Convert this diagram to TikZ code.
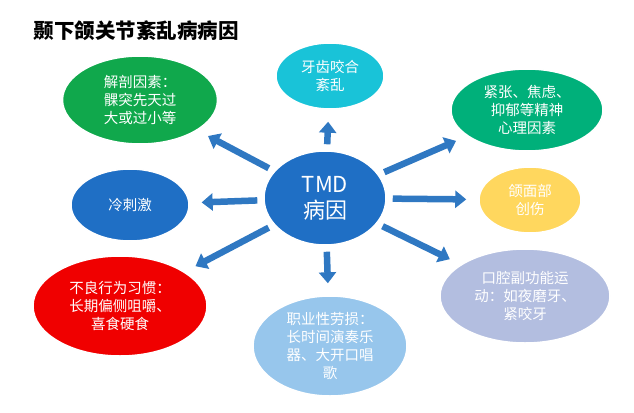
\documentclass[tikz,border=0pt]{standalone}
\usepackage{fontspec}
\setmainfont{Noto Sans CJK SC}
\usetikzlibrary{shapes.geometric,arrows.meta}
\definecolor{cblue}{HTML}{1F6FC5}
\definecolor{cgreen}{HTML}{10A84C}
\definecolor{ccyan}{HTML}{19C3D8}
\definecolor{cteal}{HTML}{00B07A}
\definecolor{cyellow}{HTML}{FFD75E}
\definecolor{clav}{HTML}{B3BEE0}
\definecolor{clblue}{HTML}{97C6EC}
\definecolor{cred}{HTML}{F00000}
\definecolor{carrow}{HTML}{2F78C2}
\tikzset{
  cause/.style={ellipse, draw=white, line width=1.5pt, text=white, align=center,
    inner sep=0pt, font=\fontsize{14.5}{18}\selectfont},
  arr/.style={-{Triangle[length=11pt,width=17pt]}, line width=6.5pt, carrow,
    shorten <=6pt, shorten >=12pt}
}
\begin{document}
\begin{tikzpicture}[x=1pt,y=-1pt]
  \useasboundingbox (0,0) rectangle (634,412);
  \node[anchor=west, font=\fontsize{20.5}{24}\selectfont\bfseries] (title) at (30,31) {颞下颌关节紊乱病病因};
  \node[cause, fill=cblue, minimum width=122, minimum height=94,
        font=\fontsize{22}{26}\selectfont] (tmd) at (325,198) {TMD\\病因};
  \node[cause, fill=cgreen, minimum width=155, minimum height=88] (jp) at (140,100) {解剖因素：\\髁突先天过\\大或过小等};
  \node[cause, fill=ccyan, minimum width=108, minimum height=66] (yc) at (330,76) {牙齿咬合\\紊乱};
  \node[cause, fill=cteal, minimum width=152, minimum height=82] (jz) at (527,110) {紧张、焦虑、\\抑郁等精神\\心理因素};
  \node[cause, fill=cblue, minimum width=118, minimum height=72] (lc) at (130,205) {冷刺激};
  \node[cause, fill=cyellow, minimum width=102, minimum height=66] (hm) at (530,200) {颌面部\\创伤};
  \node[cause, fill=clav, minimum width=170, minimum height=94] (kq) at (525,296) {口腔副功能运\\动：如夜磨牙、\\紧咬牙};
  \node[cause, fill=clblue, minimum width=154, minimum height=100] (zy) at (330,346) {职业性劳损：\\长时间演奏乐\\器、大开口唱\\歌};
  \node[cause, fill=cred, minimum width=174, minimum height=100] (bl) at (120,306) {不良行为习惯：\\长期偏侧咀嚼、\\喜食硬食};
  % arrows
  \foreach \t in {jp,yc,jz,lc,hm,kq,zy,bl}
    \draw[arr] (tmd) -- (\t);
\end{tikzpicture}
\end{document}
